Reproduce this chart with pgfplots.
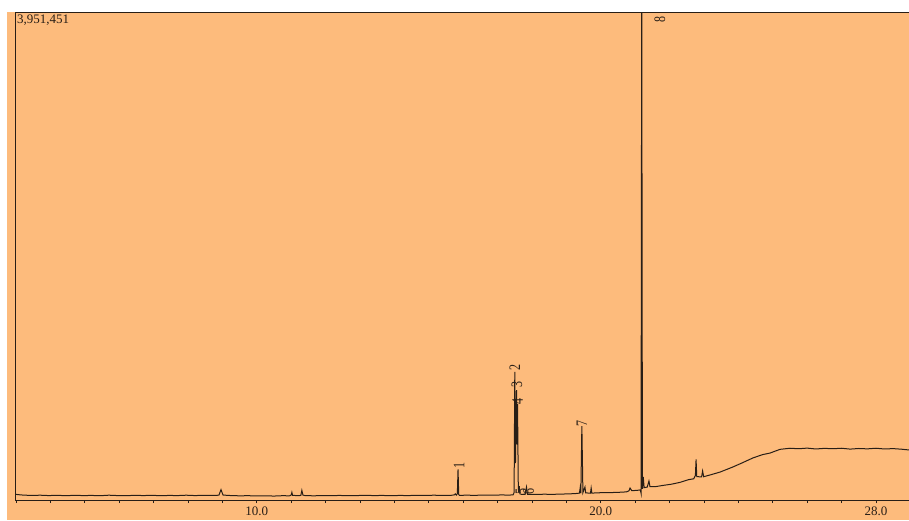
\documentclass[border=0pt]{standalone}
\usepackage{fontspec}
\setmainfont{Liberation Serif}
\usepackage{graphicx}
\usepackage{pgfplots}
\pgfplotsset{compat=1.18}
\definecolor{bg}{RGB}{253,187,124}
\definecolor{ink}{RGB}{40,30,22}
\pgfplotstableread{
t I
3.00 46
3.05 44
3.20 40
3.45 37
3.70 39
3.95 36
4.20 38
4.45 35
4.70 38
4.95 36
5.20 37
5.45 35
5.70 39
5.95 36
6.20 35
6.45 38
6.70 36
6.95 38
7.20 35
7.45 37
7.70 36
7.95 39
8.20 36
8.45 38
8.70 37
8.90 39
8.94 70
8.96 84
8.98 68
9.02 40
9.25 36
9.50 34
9.75 35
10.00 33
10.25 34
10.50 32
10.75 35
10.95 34
11.00 40
11.02 62
11.04 38
11.20 35
11.28 37
11.31 78
11.34 40
11.40 36
11.65 34
11.90 36
12.15 35
12.40 37
12.65 35
12.90 36
13.15 38
13.40 36
13.65 37
13.90 35
14.15 37
14.40 36
14.65 38
14.90 37
15.15 39
15.40 37
15.65 38
15.75 42
15.77 50
15.80 40
15.83 50
15.85 248
15.87 45
15.89 38
16.10 39
16.35 38
16.60 40
16.85 39
17.10 41
17.35 40
17.45 42
17.48 60
17.50 1040
17.52 300
17.53 500
17.55 892
17.565 450
17.58 779
17.60 150
17.61 60
17.63 113
17.65 50
17.70 45
17.80 46
17.84 105
17.87 46
18.10 45
18.35 47
18.60 46
18.85 48
19.10 50
19.30 53
19.38 56
19.40 97
19.42 55
19.45 600
19.48 60
19.54 105
19.56 58
19.70 55
19.72 97
19.74 56
19.98 59
20.25 60
20.50 62
20.75 66
20.82 75
20.85 97
20.90 76
21.05 78
21.15 82
21.17 56
21.19 4300
21.21 90
21.235 187
21.26 100
21.35 105
21.40 154
21.43 108
21.58 108
21.80 118
22.05 128
22.30 143
22.55 165
22.70 172
22.75 200
22.77 330
22.79 190
22.93 187
22.96 235
22.99 189
23.20 205
23.47 227
23.84 268
24.10 300
24.42 341
24.70 368
24.92 381
25.21 411
25.50 420
25.75 416
26.00 421
26.25 414
26.50 419
26.75 416
27.00 420
27.25 413
27.50 418
27.75 415
28.00 420
28.25 414
28.50 417
28.75 412
28.96 406
}\chrom
\tikzset{lab/.style={rotate=90, inner sep=0pt, text=ink, font=\fontsize{16}{16}\selectfont}}
\newcommand{\pl}[1]{\scalebox{0.75}[1]{#1}}
\begin{document}
\begin{tikzpicture}[x=1pt,y=1pt]
\useasboundingbox (-16,-20) rectangle (893,500);
\fill[bg] (-9,-20) rectangle (893,488);
\begin{axis}[
 name=ax,
 at={(0,0)}, anchor=south west,
 scale only axis, width=893pt, height=487pt,
 xmin=3, xmax=28.96, ymin=0, ymax=3951.451,
 axis line style={draw=none},
 ytick=\empty,
 xtick={10,20,28}, xticklabels={10.0,20.0,28.0},
 minor xtick={3,...,28},
 xtick pos=bottom, tick align=outside,
 major tick length=3pt, minor tick length=3pt,
 every tick/.style={ink, line width=0.7pt},
 xticklabel style={font=\fontsize{13}{13}\selectfont, text=ink},
 clip=true,
]
\addplot[ink, line width=1.0pt] table[x=t, y=I] {\chrom};
\node[lab] at (axis cs:15.88,280) {\pl{1}};
\node[lab] at (axis cs:17.50,1075) {\pl{2}};
\node[lab] at (axis cs:17.56,937) {\pl{3}};
\node[lab] at (axis cs:17.58,799) {\pl{4}};
\node[lab] at (axis cs:17.68,69) {\pl{5}};
\node[lab] at (axis cs:17.90,69) {\pl{6}};
\node[lab] at (axis cs:19.45,620) {\pl{7}};
\node[lab] at (axis cs:21.72,3900) {\pl{8}};
\end{axis}
\draw[ink, line width=1.0pt] (ax.north east) -- (ax.north west) -- (ax.south west) -- (ax.south east);
\node[anchor=north west, inner sep=0pt, text=ink, font=\fontsize{13}{13}\selectfont] at (1,485) {3,951,451};
\end{tikzpicture}
\end{document}
